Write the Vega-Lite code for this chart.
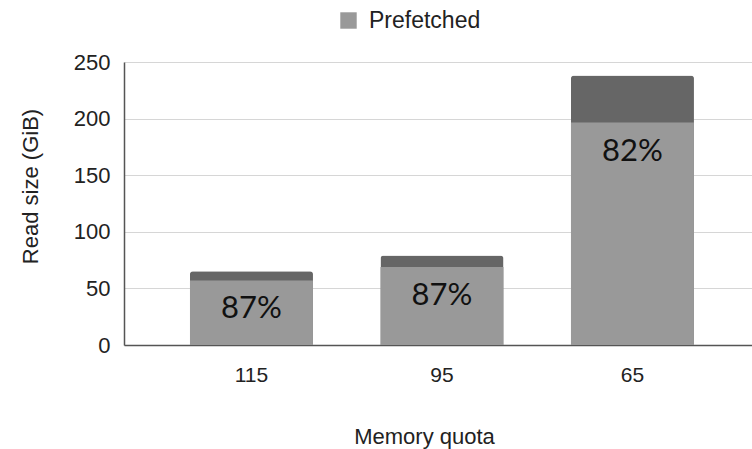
{
  "$schema": "https://vega.github.io/schema/vega-lite/v6.json",
  "width": 628,
  "height": 283,
  "autosize": "none",
  "padding": {"left": 124, "top": 62, "right": 0, "bottom": 104},
  "background": "white",
  "config": {
    "view": {"stroke": null},
    "font": "Liberation Sans"
  },
  "data": {
    "values": [
      {"quota": "115", "prefetched": 57.0, "total": 65.2, "label": "87%"},
      {"quota": "95", "prefetched": 68.8, "total": 79.1, "label": "87%"},
      {"quota": "65", "prefetched": 196.5, "total": 238.0, "label": "82%"}
    ]
  },
  "encoding": {
    "x": {
      "field": "quota",
      "type": "nominal",
      "sort": ["115", "95", "65"],
      "scale": {"paddingInner": 0.3543, "paddingOuter": 0.3255, "align": 0.532},
      "axis": {
        "title": "Memory quota",
        "labelAngle": 0,
        "ticks": false,
        "labelPadding": 19,
        "labelFontSize": 21,
        "labelColor": "#222222",
        "labelFont": "Liberation Sans",
        "titleFont": "Liberation Sans",
        "titleFontSize": 22,
        "titleFontWeight": "normal",
        "titleColor": "#222222",
        "titlePadding": 41,
        "titleX": 300,
        "domainColor": "#555555",
        "domainWidth": 1.5,
        "grid": false
      }
    }
  },
  "layer": [
    {
      "mark": {"type": "bar", "color": "#666666", "cornerRadiusTopLeft": 3, "cornerRadiusTopRight": 3},
      "encoding": {
        "y": {
          "field": "total",
          "type": "quantitative",
          "scale": {"domain": [0, 250], "nice": false, "zero": true},
          "axis": {
            "title": "Read size (GiB)",
            "values": [0, 50, 100, 150, 200, 250],
            "ticks": false,
            "labelPadding": 14,
            "labelFontSize": 22,
            "labelColor": "#222222",
            "labelFont": "Liberation Sans",
            "titleFont": "Liberation Sans",
            "titleFontSize": 22,
            "titleFontWeight": "normal",
            "titleColor": "#222222",
            "titlePadding": 31,
            "titleY": 124,
            "domainColor": "#555555",
            "domainWidth": 1.5,
            "gridColor": "#d6d6d6",
            "gridWidth": 1
          }
        }
      }
    },
    {
      "mark": {"type": "bar"},
      "encoding": {
        "y": {"field": "prefetched", "type": "quantitative", "scale": {"domain": [0, 250], "nice": false, "zero": true}},
        "color": {
          "datum": "Prefetched",
          "type": "nominal",
          "scale": {"range": ["#999999"]},
          "legend": {
            "title": null,
            "orient": "none",
            "legendX": 213,
            "legendY": -53,
            "symbolType": "square",
            "symbolSize": 270,
            "symbolStrokeWidth": 0,
            "symbolOpacity": 1,
            "labelFontSize": 23,
            "labelFont": "Liberation Sans",
            "labelColor": "#222222",
            "labelOffset": 9
          }
        }
      }
    },
    {
      "mark": {"type": "text", "font": "Lato", "fontSize": 31, "baseline": "alphabetic", "dy": 38, "color": "#111111"},
      "encoding": {
        "y": {"field": "prefetched", "type": "quantitative", "scale": {"domain": [0, 250], "nice": false, "zero": true}},
        "text": {"field": "label"}
      }
    }
  ]
}
